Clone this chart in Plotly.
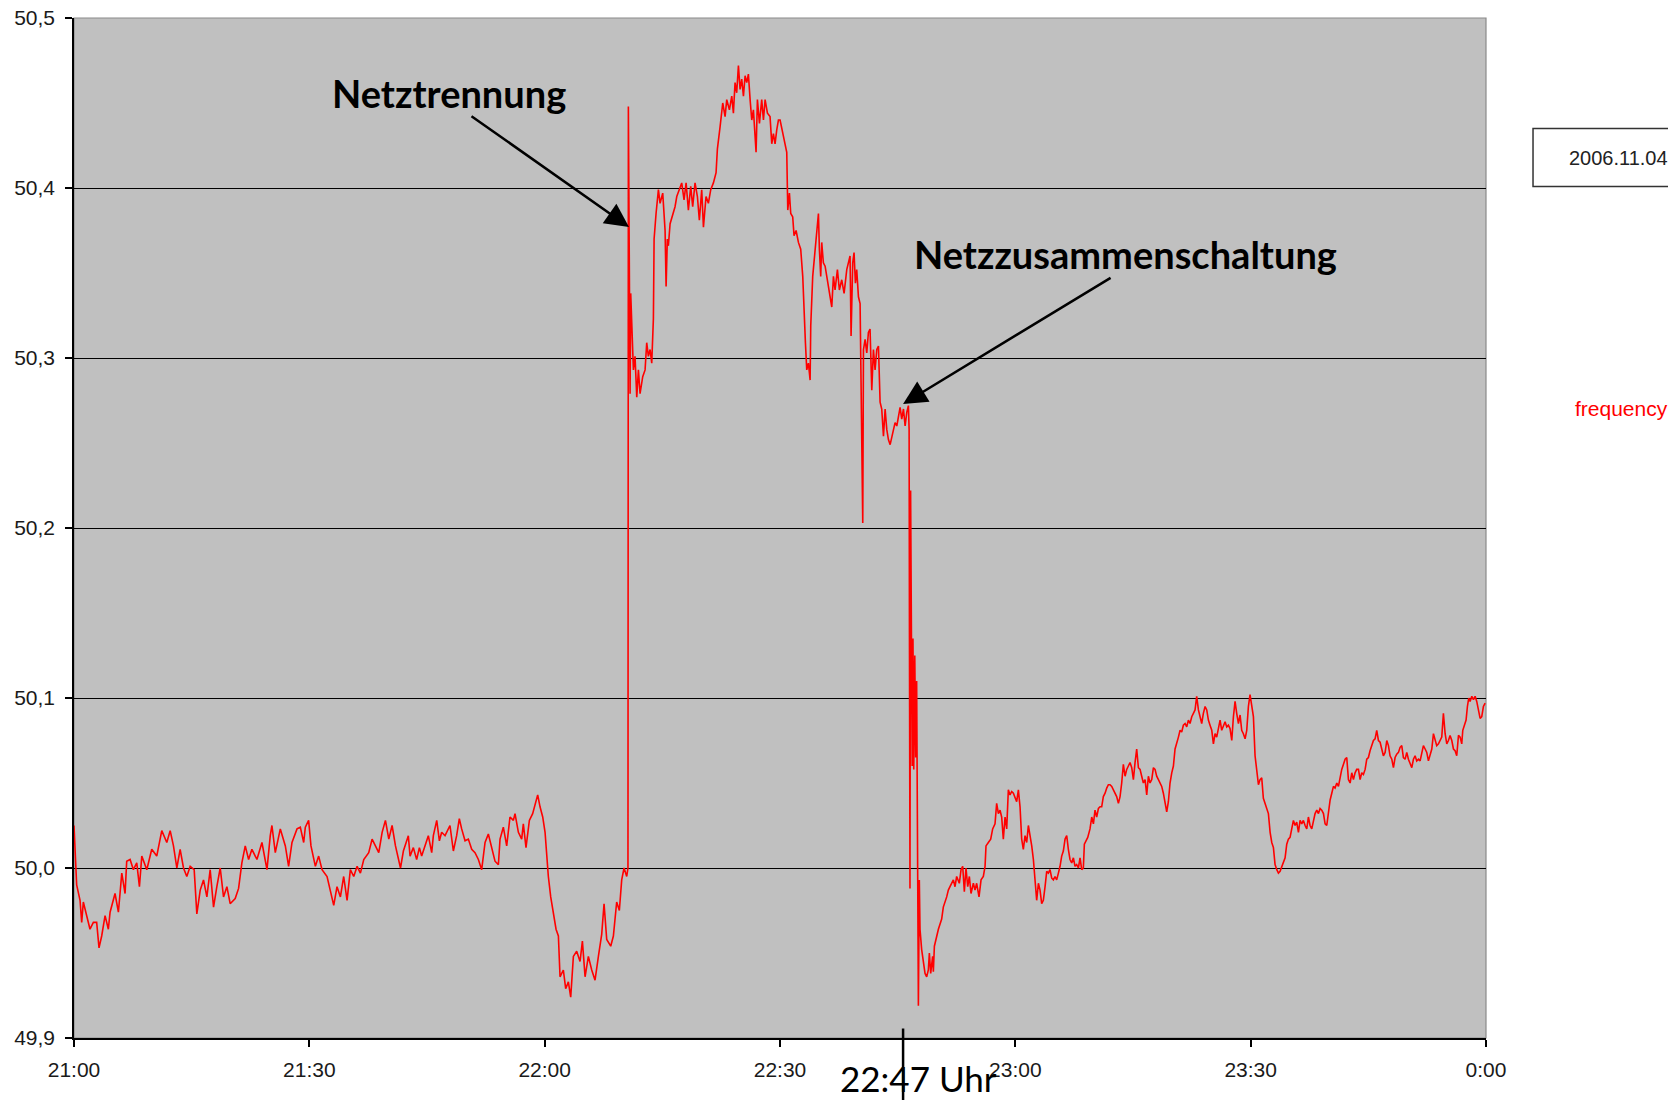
import plotly.graph_objects as go

# ---------------- data (minutes after 21:00, frequency in Hz) ----------------
seg_a_t = [0, 0.34, 0.77, 0.98, 1.19, 1.62, 2.04, 2.47, 2.89, 3.19,
           3.53, 3.96, 4.38, 4.60, 5.23, 5.66, 6.09, 6.51, 6.72, 7.15,
           7.57, 8.00, 8.34, 8.64, 9.28, 9.91, 10.55, 11.19, 11.83, 12.26,
           12.68, 13.11, 13.53, 13.96, 14.38, 14.81, 15.32, 15.66, 16.09, 16.51,
           16.94, 17.36, 17.79, 18.21, 18.64, 19.06, 19.49, 19.91, 20.55, 20.98,
           21.40, 21.83, 22.26, 22.68, 23.32, 23.96, 24.60, 25.02, 25.23, 25.66,
           26.30, 26.94, 27.36, 27.79, 28.43, 28.85, 29.28, 29.49, 29.91, 30.21,
           30.77, 31.19, 31.62, 32.26, 32.68, 33.11, 33.53, 33.96, 34.38, 34.81,
           35.23, 35.66, 36.09, 36.51, 36.94, 37.57, 38.00, 38.43, 38.85, 39.28,
           39.70, 40.13, 40.55, 40.98, 41.62]
seg_a_v = [50.025, 49.990, 49.981, 49.968, 49.980, 49.972, 49.964, 49.968, 49.968, 49.953,
           49.960, 49.972, 49.964, 49.974, 49.985, 49.974, 49.997, 49.985, 50.004, 50.005,
           49.999, 50.003, 49.989, 50.007, 49.999, 50.011, 50.007, 50.022, 50.015, 50.022,
           50.013, 50.000, 50.011, 50.000, 49.995, 50.001, 49.999, 49.973, 49.987, 49.993,
           49.983, 49.999, 49.977, 49.989, 50.000, 49.983, 49.989, 49.979, 49.982, 49.988,
           50.003, 50.013, 50.005, 50.011, 50.005, 50.015, 49.999, 50.019, 50.025, 50.009,
           50.023, 50.013, 50.001, 50.015, 50.023, 50.024, 50.015, 50.024, 50.028, 50.013,
           50.001, 50.007, 49.999, 49.995, 49.987, 49.978, 49.989, 49.983, 49.995, 49.981,
           49.999, 49.995, 50.001, 49.997, 50.005, 50.009, 50.017, 50.013, 50.009, 50.021,
           50.028, 50.017, 50.025, 50.013, 50.000]

seg_b_t = [41.99, 42.41, 42.62, 42.84, 43.26, 43.68, 44.03, 44.32, 44.75, 45.17,
           45.60, 45.81, 46.24, 46.58, 46.87, 47.30, 47.93, 48.36, 48.78, 49.12,
           49.42, 49.85, 50.27, 50.70, 51.12, 51.55, 51.97, 52.40, 52.82, 53.25,
           53.67, 54.10, 54.31, 54.73, 55.16, 55.58, 56.01, 56.22, 56.65, 57.07,
           57.28, 57.62, 58.05, 58.47, 58.77, 59.11, 59.41, 59.75, 60.05, 60.26,
           60.47, 60.77, 61.11, 61.45, 61.75, 61.96, 62.38, 62.68, 63.02, 63.32,
           63.66, 64.08, 64.51, 64.81, 65.15, 65.57, 66.00, 66.42, 66.85, 67.27,
           67.57, 67.91, 68.42, 68.76, 69.18, 69.52, 69.82, 70.12, 70.46, 70.62,
           70.67]
seg_b_v = [50.010, 50.017, 50.019, 50.007, 50.012, 50.005, 50.012, 50.007, 50.013, 50.019,
           50.009, 50.019, 50.028, 50.016, 50.021, 50.019, 50.025, 50.010, 50.019, 50.029,
           50.023, 50.016, 50.017, 50.011, 50.009, 50.005, 49.999, 50.015, 50.020, 50.012,
           50.004, 50.002, 50.017, 50.024, 50.013, 50.030, 50.028, 50.032, 50.021, 50.017,
           50.026, 50.012, 50.028, 50.032, 50.038, 50.043, 50.036, 50.030, 50.021, 50.005,
           49.995, 49.983, 49.972, 49.964, 49.960, 49.936, 49.940, 49.929, 49.933, 49.924,
           49.948, 49.951, 49.945, 49.957, 49.936, 49.948, 49.940, 49.934, 49.948, 49.961,
           49.979, 49.958, 49.954, 49.960, 49.980, 49.975, 49.993, 50.000, 49.995, 50.000,
           50.448]

seg_c_t = [70.80, 70.89, 70.97, 71.14, 71.31, 71.52, 71.74, 71.95, 72.16, 72.50,
           72.80, 73.01, 73.22, 73.44, 73.65, 73.86, 73.95, 74.20, 74.50, 74.71,
           75.05, 75.35, 75.48, 75.64, 75.77, 75.99, 76.33, 76.62, 76.84, 77.17,
           77.47, 77.77, 78.03, 78.32, 78.62, 78.87, 79.17, 79.47, 79.72, 80.02,
           80.24, 80.57, 80.87, 81.17, 81.51, 81.85, 82.02, 82.36, 82.70, 83.00,
           83.21, 83.55, 83.85, 84.06, 84.27, 84.48, 84.70, 84.91, 85.12, 85.34,
           85.55, 85.76, 85.97, 86.19, 86.40, 86.61, 86.82, 86.95, 87.12, 87.38,
           87.67, 87.89, 88.10, 88.40, 88.73, 88.95, 89.16, 89.37, 89.58, 89.80,
           90.01, 90.35, 90.65, 90.86, 90.99, 91.20, 91.37, 91.62, 91.79, 92.05,
           92.35, 92.64, 92.90, 93.07, 93.24, 93.41, 93.62, 93.84, 93.92, 94.17,
           94.47, 94.68, 94.90, 95.02, 95.19, 95.32, 95.53, 95.75, 95.96, 96.17,
           96.38, 96.60, 96.81, 97.02, 97.32, 97.57, 97.87, 98.17, 98.51, 98.76,
           98.93, 99.06, 99.27, 99.44, 99.61, 99.78, 100.00, 100.21, 100.34, 100.55,
           100.64, 100.85, 101.06, 101.27, 101.48, 101.70, 101.91, 102.12, 102.34, 102.55,
           102.76, 102.97, 103.19, 103.40, 103.61, 103.82, 104.04, 104.25, 104.46, 104.67,
           104.89, 105.10, 105.31, 105.52, 105.74, 105.95, 106.16, 106.37, 106.46]
seg_c_v = [50.364, 50.279, 50.338, 50.315, 50.293, 50.301, 50.277, 50.293, 50.279, 50.289,
           50.293, 50.309, 50.301, 50.305, 50.297, 50.323, 50.370, 50.385, 50.399, 50.391,
           50.397, 50.375, 50.342, 50.370, 50.366, 50.379, 50.385, 50.389, 50.395, 50.399,
           50.403, 50.393, 50.403, 50.387, 50.401, 50.389, 50.403, 50.395, 50.381, 50.399,
           50.377, 50.395, 50.391, 50.399, 50.403, 50.409, 50.423, 50.436, 50.450, 50.442,
           50.452, 50.446, 50.454, 50.444, 50.462, 50.456, 50.472, 50.458, 50.464, 50.454,
           50.466, 50.462, 50.467, 50.452, 50.440, 50.446, 50.432, 50.421, 50.452, 50.438,
           50.452, 50.440, 50.452, 50.444, 50.442, 50.426, 50.432, 50.426, 50.434, 50.440,
           50.440, 50.432, 50.425, 50.421, 50.387, 50.397, 50.385, 50.383, 50.372, 50.375,
           50.368, 50.364, 50.348, 50.325, 50.309, 50.293, 50.297, 50.287, 50.319, 50.348,
           50.364, 50.372, 50.385, 50.364, 50.348, 50.368, 50.356, 50.354, 50.348, 50.344,
           50.336, 50.330, 50.348, 50.340, 50.352, 50.340, 50.346, 50.338, 50.352, 50.358,
           50.360, 50.313, 50.356, 50.362, 50.344, 50.352, 50.336, 50.332, 50.289, 50.203,
           50.305, 50.311, 50.303, 50.315, 50.317, 50.281, 50.305, 50.293, 50.305, 50.307,
           50.274, 50.270, 50.254, 50.270, 50.258, 50.252, 50.249, 50.254, 50.258, 50.262,
           50.260, 50.266, 50.271, 50.264, 50.270, 50.260, 50.268, 50.272, 50.258]

seg_d_t = [106.50, 106.57, 106.65, 106.72, 106.85, 106.95, 107.05, 107.18, 107.30, 107.42,
           107.52, 107.60, 107.64, 107.76]
seg_d_v = [50.140, 49.988, 50.222, 50.130, 50.060, 50.135, 50.058, 50.125, 50.065, 50.110,
           50.000, 50.003, 49.919, 49.993]

seg_e_t = [107.85, 108.06, 108.27, 108.49, 108.70, 108.91, 109.04, 109.21, 109.46, 109.55,
           109.68, 109.97, 110.19, 110.61, 110.82, 111.25, 111.46, 111.67, 112.10, 112.31,
           112.52, 112.86, 113.08, 113.29, 113.50, 113.71, 113.93, 114.14, 114.35, 114.65,
           114.86, 115.07, 115.37, 115.63, 115.92, 116.14, 116.26, 116.56, 116.86, 117.11,
           117.41, 117.62, 117.84, 118.05, 118.26, 118.47, 118.69, 118.90, 119.11, 119.32,
           119.54, 119.75, 119.96, 120.17, 120.39, 120.60, 120.81, 121.02, 121.24, 121.45,
           121.66, 121.87, 122.09, 122.30, 122.51, 122.72, 122.94, 123.15, 123.36, 123.57,
           123.79, 124.00, 124.21, 124.42, 124.64, 124.85, 125.06, 125.27, 125.49, 125.70,
           125.91, 126.12, 126.34, 126.55, 126.76, 126.97, 127.19, 127.40, 127.61, 127.82,
           128.04, 128.25, 128.46, 128.67, 128.80, 129.01, 129.23, 129.52, 129.74, 129.95,
           130.16, 130.37, 130.59, 130.80, 131.01, 131.22, 131.44, 131.65, 131.86, 132.07,
           132.29, 132.50, 132.71, 132.92, 133.14, 133.35, 133.56, 133.77, 133.99, 134.20,
           134.41, 134.62, 134.84, 135.05, 135.26, 135.47, 135.69, 135.90, 136.11, 136.32,
           136.54, 136.75, 136.96, 137.17, 137.39, 137.60, 137.81, 138.02, 138.24, 138.45,
           138.66, 138.87, 139.09, 139.30, 139.51, 139.72, 139.94, 140.15, 140.36, 140.57,
           140.79, 141.00, 141.21, 141.42, 141.64, 141.85, 142.06, 142.27, 142.49, 142.70,
           142.91, 143.12, 143.34, 143.55, 143.76, 143.97, 144.19, 144.40, 144.61, 144.82,
           145.04, 145.25, 145.46, 145.67, 145.89, 146.10, 146.31, 146.52, 146.74, 146.95,
           147.16, 147.37, 147.59, 147.80, 148.01, 148.22, 148.44, 148.65, 148.86, 149.07,
           149.29, 149.50, 149.71, 149.92, 150.13, 150.35]
seg_e_v = [49.964, 49.952, 49.944, 49.938, 49.936, 49.940, 49.950, 49.938, 49.948, 49.939,
           49.954, 49.960, 49.964, 49.970, 49.977, 49.983, 49.987, 49.989, 49.993, 49.989,
           49.995, 49.991, 49.999, 50.001, 49.986, 50.000, 49.989, 49.995, 49.985, 49.991,
           49.987, 49.991, 49.983, 49.993, 49.995, 50.001, 50.013, 50.015, 50.017, 50.023,
           50.026, 50.038, 50.032, 50.034, 50.030, 50.017, 50.030, 50.023, 50.046, 50.043,
           50.045, 50.044, 50.042, 50.039, 50.046, 50.036, 50.017, 50.011, 50.019, 50.015,
           50.025, 50.020, 50.013, 50.005, 49.991, 49.981, 49.991, 49.987, 49.979, 49.981,
           49.989, 49.998, 49.997, 49.999, 49.994, 49.993, 49.995, 49.993, 49.997, 50.001,
           50.007, 50.010, 50.017, 50.019, 50.011, 50.005, 50.003, 50.006, 50.001, 50.002,
           50.000, 50.006, 49.999, 50.000, 50.014, 50.016, 50.018, 50.023, 50.030, 50.026,
           50.034, 50.030, 50.035, 50.036, 50.036, 50.042, 50.044, 50.047, 50.049, 50.049,
           50.048, 50.046, 50.044, 50.042, 50.038, 50.042, 50.050, 50.061, 50.054, 50.058,
           50.060, 50.062, 50.059, 50.052, 50.062, 50.070, 50.059, 50.058, 50.054, 50.050,
           50.052, 50.043, 50.054, 50.050, 50.052, 50.059, 50.058, 50.054, 50.052, 50.050,
           50.048, 50.044, 50.038, 50.033, 50.039, 50.050, 50.056, 50.060, 50.070, 50.073,
           50.077, 50.081, 50.080, 50.084, 50.085, 50.083, 50.087, 50.085, 50.089, 50.091,
           50.093, 50.101, 50.093, 50.089, 50.085, 50.091, 50.095, 50.093, 50.087, 50.084,
           50.081, 50.073, 50.079, 50.077, 50.083, 50.087, 50.081, 50.084, 50.086, 50.083,
           50.084, 50.082, 50.075, 50.089, 50.098, 50.091, 50.085, 50.090, 50.081, 50.079,
           50.076, 50.081, 50.095, 50.102, 50.095, 50.089]

seg_f_t = [150.56, 150.78, 150.99, 151.20, 151.41, 151.62, 151.84, 152.05, 152.26, 152.48,
           152.69, 152.90, 153.11, 153.33, 153.54, 153.75, 153.96, 154.18, 154.39, 154.60,
           154.81, 155.02, 155.24, 155.45, 155.66, 155.87, 156.09, 156.30, 156.51, 156.72,
           156.94, 157.15, 157.36, 157.57, 157.79, 158.00, 158.21, 158.43, 158.64, 158.85,
           159.06, 159.28, 159.49, 159.70, 159.91, 160.13, 160.34, 160.55, 160.76, 160.98,
           161.19, 161.40, 161.61, 161.83, 162.04, 162.25, 162.46, 162.68, 162.89, 163.10,
           163.31, 163.52, 163.74, 163.95, 164.16, 164.37, 164.59, 164.80, 165.01, 165.22,
           165.44, 165.65, 165.86, 166.07, 166.29, 166.50, 166.71, 166.92, 167.14, 167.35,
           167.56, 167.77, 167.99, 168.20, 168.41, 168.62, 168.84, 169.05, 169.26, 169.47,
           169.69, 169.90, 170.11, 170.32, 170.54, 170.75, 170.96, 171.17, 171.39, 171.60,
           171.81, 172.02, 172.24, 172.45, 172.66, 172.87, 173.09, 173.30, 173.51, 173.72,
           173.94, 174.15, 174.36, 174.57, 174.79, 175.00, 175.21, 175.42, 175.64, 175.85,
           176.06, 176.27, 176.49, 176.70, 176.91, 177.04, 177.21, 177.46, 177.63, 177.80,
           177.97, 178.19, 178.40, 178.61, 178.82, 179.04, 179.25, 179.46, 179.67, 179.89]
seg_f_v = [50.066, 50.058, 50.049, 50.052, 50.053, 50.041, 50.038, 50.034, 50.032, 50.021,
           50.015, 50.012, 50.002, 49.999, 49.997, 49.998, 50.001, 50.003, 50.006, 50.014,
           50.017, 50.018, 50.023, 50.028, 50.025, 50.027, 50.021, 50.028, 50.026, 50.028,
           50.025, 50.023, 50.030, 50.025, 50.023, 50.028, 50.032, 50.034, 50.032, 50.035,
           50.034, 50.032, 50.026, 50.025, 50.034, 50.040, 50.044, 50.048, 50.047, 50.050,
           50.048, 50.054, 50.058, 50.061, 50.064, 50.065, 50.052, 50.050, 50.056, 50.052,
           50.056, 50.058, 50.058, 50.052, 50.056, 50.055, 50.058, 50.064, 50.065, 50.069,
           50.072, 50.075, 50.076, 50.081, 50.075, 50.074, 50.070, 50.066, 50.068, 50.075,
           50.072, 50.066, 50.064, 50.059, 50.065, 50.067, 50.068, 50.071, 50.072, 50.065,
           50.064, 50.068, 50.064, 50.062, 50.059, 50.064, 50.066, 50.063, 50.064, 50.063,
           50.068, 50.072, 50.070, 50.068, 50.063, 50.067, 50.070, 50.079, 50.075, 50.072,
           50.073, 50.075, 50.077, 50.091, 50.079, 50.073, 50.075, 50.078, 50.075, 50.070,
           50.069, 50.066, 50.078, 50.077, 50.073, 50.081, 50.083, 50.087, 50.095, 50.100,
           50.098, 50.101, 50.099, 50.101, 50.098, 50.092, 50.088, 50.089, 50.095, 50.097]

x_tick_vals = [0, 30, 60, 90, 120, 150, 180]
x_tick_text = ["21:00", "21:30", "22:00", "22:30", "23:00", "23:30", "0:00"]
y_tick_vals = [49.9, 50.0, 50.1, 50.2, 50.3, 50.4, 50.5]
y_tick_text = ["49,9", "50,0", "50,1", "50,2", "50,3", "50,4", "50,5"]

series_name = "frequency"
date_label = "2006.11.04"
label_trennung = "Netztrennung"
label_zusammen = "Netzzusammenschaltung"
label_time = "22:47 Uhr"
# annotated events: (minute, Hz) of arrow tips, and the marked switching time
event_trennung = (70.75, 50.377)
event_zusammen = (105.69, 50.273)
event_marker_min = 105.69

minutes = seg_a_t + seg_b_t + seg_c_t + seg_d_t + seg_e_t + seg_f_t
freq = seg_a_v + seg_b_v + seg_c_v + seg_d_v + seg_e_v + seg_f_v

# ---------------- figure ----------------
AX_FONT = dict(family="Liberation Sans, Arial, sans-serif", size=21, color="#1a1a1a")
ANN_FONT = dict(family="Lato, Carlito, sans-serif", size=38, color="black")

fig = go.Figure()
fig.add_trace(go.Scatter(x=minutes, y=freq, mode="lines", name=series_name,
                         line=dict(color="#FF0000", width=1.6), showlegend=False))

# page body has an 8px margin, so the figure is 8px smaller than the window
fig.update_layout(
    width=1668, height=1092,
    margin=dict(l=66, r=190, t=10, b=62, autoexpand=False),
    plot_bgcolor="#C0C0C0", paper_bgcolor="white",
    xaxis=dict(range=[0, 180], tickvals=x_tick_vals, ticktext=x_tick_text,
               ticks="outside", ticklen=7, tickwidth=1.5, tickcolor="black",
               showline=True, linecolor="black", linewidth=1.5, automargin=False,
               ticklabelstandoff=5, ticklabeloverflow="allow",
               showgrid=False, zeroline=False, tickfont=AX_FONT),
    yaxis=dict(range=[49.9, 50.5], tickvals=y_tick_vals, ticktext=y_tick_text,
               ticks="outside", ticklen=7, tickwidth=1.5, tickcolor="black",
               showline=True, linecolor="black", linewidth=1.5, automargin=False,
               ticklabelstandoff=6, ticklabeloverflow="allow",
               showgrid=True, gridcolor="black", gridwidth=1.3,
               zeroline=False, tickfont=AX_FONT),
)

shapes = [
    # plot area frame (top/right grey)
    dict(type="rect", xref="paper", yref="paper", x0=0, x1=1, y0=0, y1=1,
         line=dict(color="#8a8a8a", width=1.2), layer="below"),
    # legend/date box
    dict(type="rect", xref="paper", yref="paper", x0=1.0333, x1=1.15, y0=0.8348, y1=0.8917,
         line=dict(color="#333333", width=1.5)),
    # 22:47 marker line
    dict(type="line", xref="x", yref="paper", x0=event_marker_min, x1=event_marker_min,
         y0=-0.07, y1=0.0093, line=dict(color="black", width=2.5)),
]
fig.update_layout(shapes=shapes)

annotations = [
    dict(text="<b>" + label_trennung + "</b>", xref="paper", yref="paper", x=0.2656, y=0.926,
         showarrow=False, xanchor="center", yanchor="middle", font=ANN_FONT),
    dict(text="<b>" + label_zusammen + "</b>", xref="paper", yref="paper", x=0.745, y=0.769,
         showarrow=False, xanchor="center", yanchor="middle", font=ANN_FONT),
    dict(text="", xref="x", yref="y", x=event_trennung[0], y=event_trennung[1],
         ax=-159, ay=-112, showarrow=True, arrowhead=2, arrowsize=1.9, arrowwidth=2.5,
         arrowcolor="black"),
    dict(text="", xref="x", yref="y", x=event_zusammen[0], y=event_zusammen[1],
         ax=209, ay=-127, showarrow=True, arrowhead=2, arrowsize=1.9, arrowwidth=2.5,
         arrowcolor="black"),
    dict(text=label_time, xref="paper", yref="paper", x=0.5984, y=-0.0603,
         showarrow=False, xanchor="center", yanchor="bottom", borderpad=0,
         font=dict(family="Lato, Carlito, sans-serif", size=35, color="black")),
    dict(text=date_label, xref="paper", yref="paper", x=1.0575, y=0.8632,
         showarrow=False, xanchor="left", yanchor="middle",
         font=dict(family="Liberation Sans, Arial, sans-serif", size=20, color="#222222")),
    dict(text=series_name, xref="paper", yref="paper", x=1.0616, y=0.6172,
         showarrow=False, xanchor="left", yanchor="middle",
         font=dict(family="Liberation Sans, Arial, sans-serif", size=21, color="#FF0000")),
]
fig.update_layout(annotations=annotations)

fig.write_html("out.html")
